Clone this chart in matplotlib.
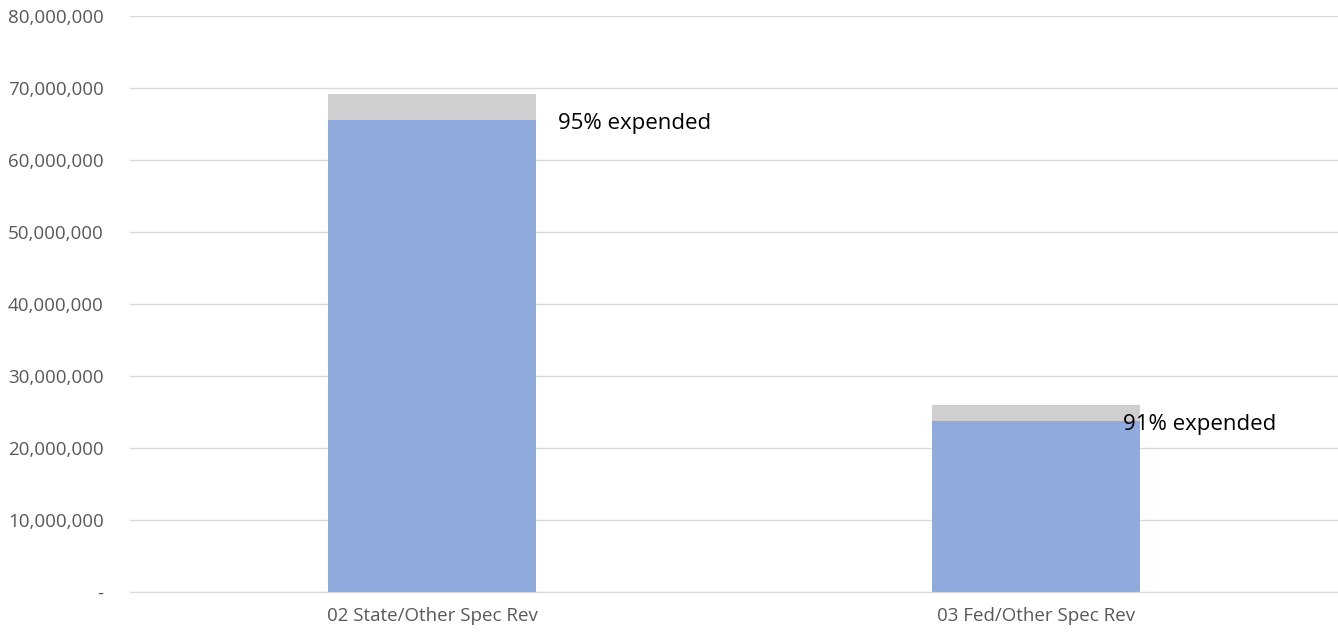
import matplotlib.pyplot as plt
from matplotlib.ticker import FuncFormatter

# Data
categories = ["02 State/Other Spec Rev", "03 Fed/Other Spec Rev"]
expended = [65_600_000, 23_800_000]
budget = [69_200_000, 26_000_000]
pct_labels = ["95% expended", "91% expended"]
label_dx = [0.208, 0.144]  # offset of label from bar centre (category units)

remaining = [b - e for b, e in zip(budget, expended)]

plt.rcParams['font.family'] = ['Open Sans', 'DejaVu Sans']

fig = plt.figure(figsize=(13.38, 6.32), dpi=100)
ax = fig.add_axes([130 / 1338, 1 - 592 / 632, 1208 / 1338, 576 / 632])

x = range(len(categories))
ax.bar(x, expended, width=0.343, color="#8faadc", zorder=2)
ax.bar(x, remaining, width=0.343, bottom=expended, color="#d0cece", zorder=2)

for i, (e, lab) in enumerate(zip(expended, pct_labels)):
    ax.annotate(lab, (i + label_dx[i], e), xytext=(0, -3), textcoords="offset points",
                ha="left", va="center", fontsize=16, color="black", zorder=3)

ax.set_xlim(-0.5, 1.5)
ax.set_ylim(0, 80_000_000)
ax.set_yticks(range(0, 80_000_001, 10_000_000))
ax.yaxis.set_major_formatter(FuncFormatter(lambda v, p: "-" if v == 0 else f"{int(v):,}"))
ax.set_xticks(list(x))
ax.set_xticklabels(categories)

ax.grid(axis="y", color="#d9d9d9", linewidth=1, zorder=0)
for s in ["top", "right", "left"]:
    ax.spines[s].set_visible(False)
ax.spines["bottom"].set_color("#d9d9d9")
ax.tick_params(axis="both", length=0, colors="#595959", labelsize=13.5)
ax.tick_params(axis="y", pad=19)
ax.tick_params(axis="x", pad=10.5)

fig.savefig("out.png", dpi=100)
